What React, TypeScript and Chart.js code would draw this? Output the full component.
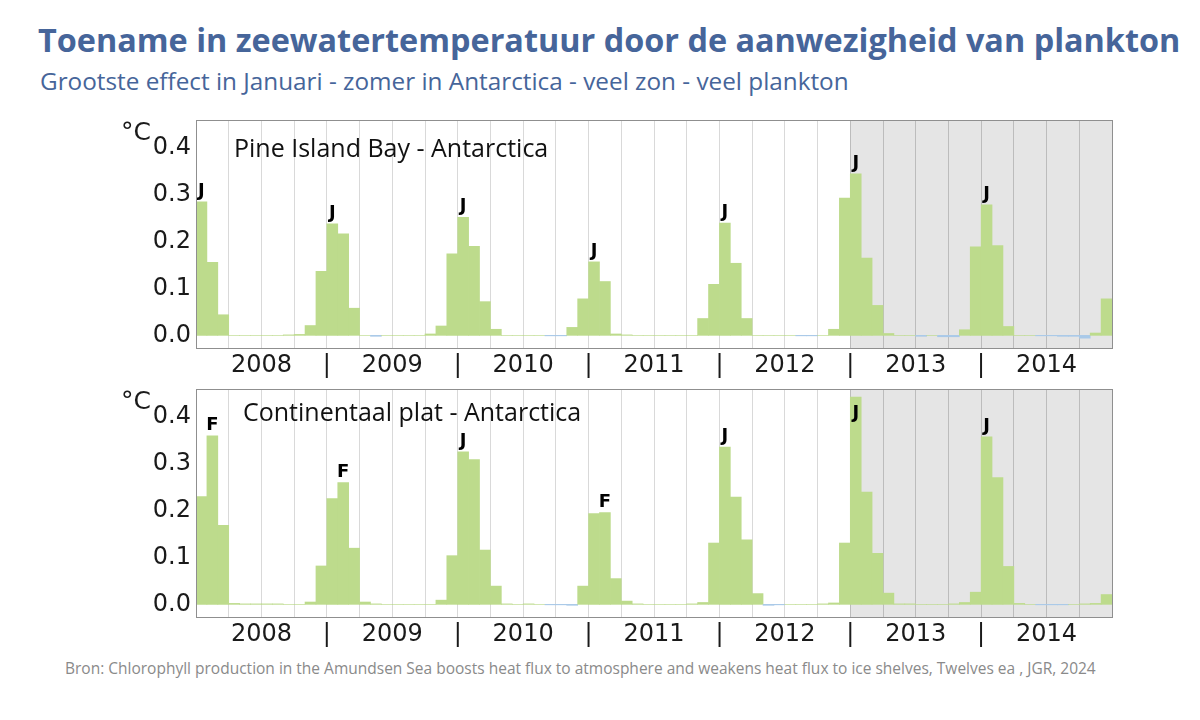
import { useEffect, useRef } from "react";
import { Chart, registerables } from "chart.js";

Chart.register(...registerables);

// month initials, used for the peak labels above the bars
const monthLetters = ["J", "F", "M", "A", "M", "J", "J", "A", "S", "O", "N", "D"];
const years = ["2008", "2009", "2010", "2011", "2012", "2013", "2014"];
const yTicks = [0, 0.1, 0.2, 0.3, 0.4];

// monthly warming (°C), Jan 2008 .. Dec 2014, one row per year
const pineIslandBay = [
  0.285, 0.156, 0.044, 0.0, 0.0, 0.0, 0.0, 0.0, 0.001, 0.002, 0.021, 0.137,
  0.238, 0.217, 0.058, 0.0, -0.002, 0.0, 0.0, 0.0, 0.0, 0.003, 0.02, 0.174,
  0.252, 0.19, 0.072, 0.013, 0.0, 0.0, 0.0, 0.0, -0.001, -0.001, 0.017, 0.078,
  0.157, 0.115, 0.003, 0.001, 0.0, 0.0, 0.0, 0.0, 0.0, 0.0, 0.036, 0.109,
  0.24, 0.154, 0.036, 0.0, 0.0, 0.0, 0.0, -0.001, -0.001, 0.0, 0.013, 0.293,
  0.345, 0.165, 0.064, 0.004, 0.0, 0.0, -0.002, 0.0, -0.003, -0.003, 0.012, 0.189,
  0.279, 0.192, 0.019, 0.0, 0.0, -0.001, -0.001, -0.002, -0.002, -0.006, 0.005, 0.078,
];

const continentalShelf = [
  0.23, 0.36, 0.169, 0.002, 0.001, 0.001, 0.001, 0.001, 0.0, 0.0, 0.005, 0.082,
  0.226, 0.26, 0.12, 0.005, 0.001, 0.0, 0.0, 0.0, 0.0, 0.0, 0.009, 0.104,
  0.326, 0.309, 0.116, 0.039, 0.001, 0.0, 0.001, 0.0, -0.001, -0.001, -0.002, 0.039,
  0.194, 0.196, 0.055, 0.007, 0.001, 0.0, 0.0, 0.0, 0.0, 0.001, 0.004, 0.131,
  0.336, 0.229, 0.138, 0.023, -0.002, -0.001, 0.0, 0.0, 0.0, 0.001, 0.003, 0.131,
  0.443, 0.24, 0.109, 0.024, 0.001, 0.001, 0.0, 0.0, 0.0, 0.001, 0.004, 0.026,
  0.358, 0.271, 0.081, 0.002, 0.0, -0.001, -0.001, -0.001, 0.0, 0.001, 0.002, 0.021,
];

// month index of the peak that gets a letter
const pinePeaks = [0, 12, 24, 36, 48, 60, 72];
const shelfPeaks = [1, 13, 24, 37, 48, 60, 72];

// Jan 2013 onwards is shaded
const shadedFrom = 60;

const totalMonths = pineIslandBay.length;
const gridMonths = Array.from({ length: totalMonths / 3 + 1 }, (_, i) => i * 3);

const GREEN = "#bddb8c";
const BLUE = "#a9c9e8";
const BLUE_TEXT = "#46659a";
const AXIS_FONT = '"DejaVu Sans", sans-serif';

interface PanelProps {
  values: number[];
  peaks: number[];
  title: string;
  titleLeft: number;
  titleTop: number;
  top: number;
}

const Panel = ({ values, peaks, title, titleLeft, titleTop, top }: PanelProps) => {
  const canvasRef = useRef<HTMLCanvasElement | null>(null);

  useEffect(() => {
    const ctx = canvasRef.current?.getContext("2d");
    if (!ctx) return;

    const chart = new Chart(ctx, {
      type: "bar",
      data: {
        datasets: [
          {
            data: values.map((v, i) => ({ x: i + 0.5, y: v })),
            backgroundColor: values.map((v) => (v < 0 ? BLUE : GREEN)),
            borderWidth: 0,
            barPercentage: 1,
            categoryPercentage: 1,
          },
        ],
      },
      options: {
        animation: false,
        responsive: true,
        maintainAspectRatio: false,
        layout: { padding: { left: 0, right: 88, top: 10, bottom: 0 } },
        plugins: { legend: { display: false }, tooltip: { enabled: false } },
        scales: {
          x: {
            type: "linear",
            offset: false,
            min: 0,
            max: totalMonths,
            afterBuildTicks: (scale) => {
              scale.ticks = gridMonths.map((v) => ({ value: v }));
            },
            afterFit: (scale) => {
              scale.height = 32;
              scale.paddingLeft = 0;
              scale.paddingRight = 0;
            },
            border: { display: false },
            grid: {
              offset: false,
              drawTicks: false,
              color: (c) =>
                c.tick && c.tick.value >= shadedFrom ? "#bcbcbc" : "#d9d9d9",
            },
            ticks: {
              autoSkip: false,
              maxRotation: 0,
              padding: 3,
              color: "#1a1a1a",
              font: { family: AXIS_FONT, size: 24 },
              callback: (value) => {
                const v = Number(value);
                if (v % 12 === 6) return years[(v - 6) / 12];
                if (v % 12 === 0 && v > 0 && v < totalMonths) return "|";
                return "";
              },
            },
          },
          y: {
            min: -0.027,
            max: 0.46,
            afterBuildTicks: (scale) => {
              scale.ticks = yTicks.map((v) => ({ value: v }));
            },
            afterFit: (scale) => {
              scale.width = 196;
              scale.paddingTop = 0;
              scale.paddingBottom = 0;
            },
            border: { display: false },
            grid: { display: false, drawTicks: false },
            ticks: {
              padding: 5,
              color: "#1a1a1a",
              font: { family: AXIS_FONT, size: 24 },
              callback: (value) => Number(value).toFixed(1),
            },
          },
        },
      },
      plugins: [
        {
          id: "panelDecor",
          beforeDraw: (c) => {
            const { ctx, chartArea, scales } = c;
            const x0 = scales.x.getPixelForValue(shadedFrom);
            ctx.save();
            ctx.fillStyle = "#e5e5e5";
            ctx.fillRect(x0, chartArea.top, chartArea.right - x0, chartArea.bottom - chartArea.top);
            ctx.restore();
          },
          afterDatasetsDraw: (c) => {
            const { ctx, chartArea } = c;
            const bars = c.getDatasetMeta(0).data;
            ctx.save();
            ctx.font = `bold 18px ${AXIS_FONT}`;
            ctx.fillStyle = "#000";
            ctx.textAlign = "center";
            ctx.textBaseline = "alphabetic";
            peaks.forEach((i) => {
              const bar = bars[i];
              const y = Math.max(bar.y - 6, chartArea.top + 29);
              ctx.fillText(monthLetters[i % 12], bar.x, y);
            });
            ctx.restore();
          },
          afterDraw: (c) => {
            const { ctx, chartArea } = c;
            ctx.save();
            ctx.strokeStyle = "#8f8f8f";
            ctx.lineWidth = 1;
            ctx.strokeRect(
              Math.round(chartArea.left) + 0.5,
              Math.round(chartArea.top) + 0.5,
              Math.round(chartArea.right - chartArea.left),
              Math.round(chartArea.bottom - chartArea.top)
            );
            ctx.restore();
          },
        },
      ],
    });

    return () => {
      chart.destroy();
    };
  }, [values, peaks]);

  return (
    <div style={{ position: "absolute", left: 0, top, width: 1200, height: 270 }}>
      <canvas ref={canvasRef} />
      <div
        style={{
          position: "absolute",
          left: 121,
          top: 9,
          fontFamily: AXIS_FONT,
          fontSize: 25,
          lineHeight: 1,
          color: "#1a1a1a",
        }}
      >
        °C
      </div>
      <div
        style={{
          position: "absolute",
          left: titleLeft,
          top: titleTop,
          fontFamily: '"Open Sans", sans-serif',
          fontSize: 25,
          lineHeight: 1,
          color: "#111",
          whiteSpace: "nowrap",
        }}
      >
        {title}
      </div>
    </div>
  );
};

const App = () => {
  return (
    <div
      style={{
        position: "absolute",
        left: 0,
        top: 0,
        width: 1200,
        height: 720,
        background: "#fff",
        overflow: "hidden",
      }}
    >
      <div
        style={{
          position: "absolute",
          left: 38,
          top: 23,
          fontFamily: '"Open Sans", sans-serif',
          fontWeight: 700,
          fontSize: 32.4,
          lineHeight: 1,
          color: BLUE_TEXT,
          whiteSpace: "nowrap",
        }}
      >
        Toename in zeewatertemperatuur door de aanwezigheid van plankton
      </div>
      <div
        style={{
          position: "absolute",
          left: 40,
          top: 69,
          fontFamily: '"Open Sans", sans-serif',
          fontSize: 24.3,
          lineHeight: 1,
          color: BLUE_TEXT,
          whiteSpace: "nowrap",
        }}
      >
        Grootste effect in Januari - zomer in Antarctica - veel zon - veel plankton
      </div>
      <Panel
        values={pineIslandBay}
        peaks={pinePeaks}
        title="Pine Island Bay - Antarctica"
        titleLeft={234}
        titleTop={24.5}
        top={110}
      />
      <Panel
        values={continentalShelf}
        peaks={shelfPeaks}
        title="Continentaal plat - Antarctica"
        titleLeft={243}
        titleTop={19.5}
        top={379}
      />
      <div
        style={{
          position: "absolute",
          left: 65,
          top: 661,
          fontFamily: '"Open Sans", sans-serif',
          fontSize: 15.5,
          lineHeight: 1,
          color: "#8a8a8a",
          whiteSpace: "nowrap",
        }}
      >
        Bron: Chlorophyll production in the Amundsen Sea boosts heat flux to atmosphere and weakens heat flux to ice shelves, Twelves ea , JGR, 2024
      </div>
    </div>
  );
};

export default App;
